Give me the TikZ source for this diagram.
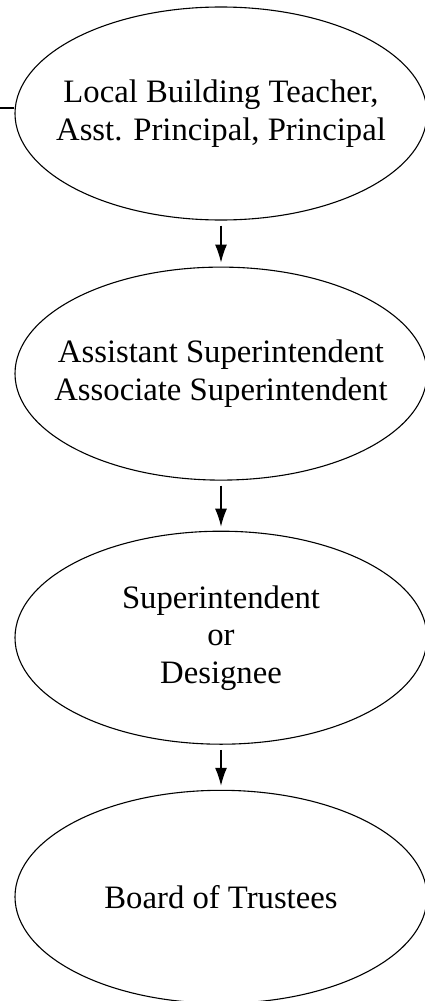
\documentclass[tikz,border=0pt]{standalone}
\usepackage{fontspec}
\setmainfont{Liberation Serif}
\usepackage{tikz}
\usetikzlibrary{positioning}
\usetikzlibrary{arrows.meta}
\usetikzlibrary{shapes.geometric}

\begin{document}
\begin{tikzpicture}[
    level/.style={ellipse, draw=black, line width=1.1pt, fill=white,
        inner xsep=-40pt, inner ysep=0pt,
        minimum width=412pt, minimum height=213pt, align=center,
        font=\fontsize{32.7}{37.5}\selectfont},
    down/.style={-{Latex[length=18pt,width=12pt]}, line width=1.2pt, shorten <=5pt, shorten >=4pt},
]
    \useasboundingbox (0,0) rectangle (425pt,-1001pt);

    \node[level] (E1) at (221pt,-113.5pt) {Local Building Teacher,\\Asst. Principal, Principal};
    \node[level] (E2) [below=46pt of E1] {Assistant Superintendent\\Associate Superintendent};
    \node[level] (E3) [below=50pt of E2] {Superintendent\\or\\Designee};
    \node[level] (E4) [below=45pt of E3] {Board of Trustees};

    \coordinate (lead) at (0pt,-108pt);
    \draw[line width=1.1pt] (lead) -- (E1.west |- lead);

    \draw[down] (E1.south) -- (E2.north);
    \draw[down] (E2.south) -- (E3.north);
    \draw[down] (E3.south) -- (E4.north);
\end{tikzpicture}
\end{document}
